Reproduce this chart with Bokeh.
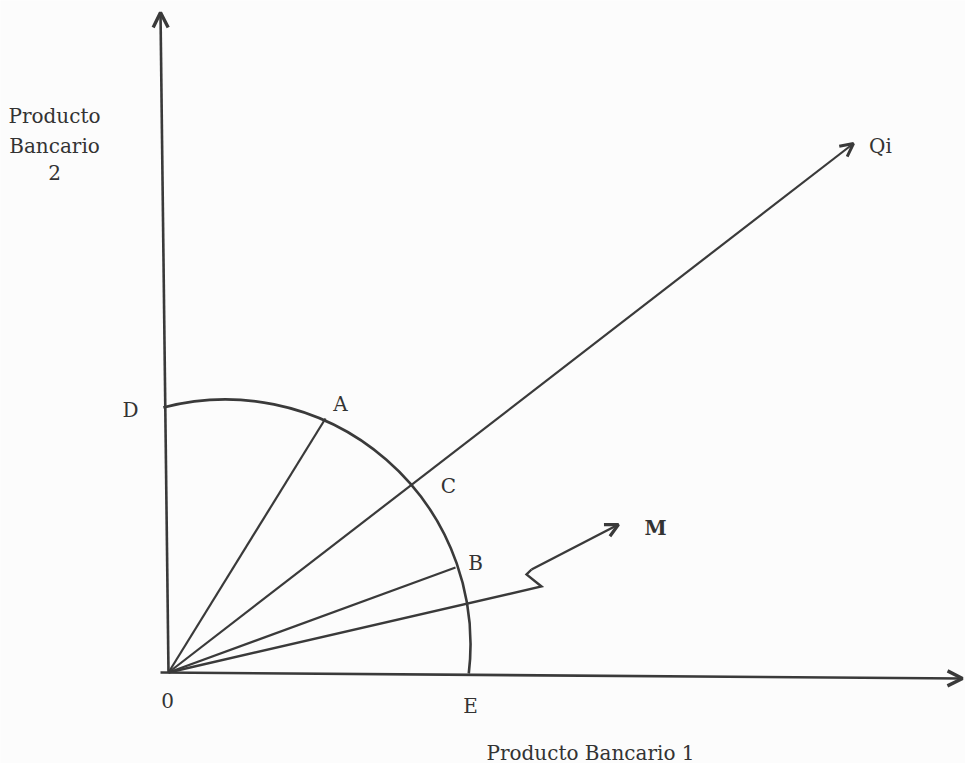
from bokeh.plotting import figure
from bokeh.models import Arrow, OpenHead, ColumnDataSource, Range1d
from bokeh.embed import file_html
from bokeh.resources import INLINE
from bokeh.core.properties import value
import math

# ---- diagram data (origin "0" at (0, 0)) ----
axis1_start = (-8, 0)
axis1_end = (794, -6)      # Producto Bancario 1 axis tip
axis2_start = (0, 0)
axis2_end = (-8, 660)      # Producto Bancario 2 axis tip
arc_center_x = [57]
arc_center_y = [28]
arc_radius = [245]
arc_start_deg = -6.8
arc_end_deg = 104.7
ray_x = [157, 287]         # O -> A, O -> B
ray_y = [254, 105]
qi_tip = (685, 529)        # O -> C -> Qi
m_path_x = [0, 373, 358, 363]
m_path_y = [0, 86, 98, 103]
m_tip = (450, 148)
label_text = ["A", "B", "C", "D", "E", "0", "Qi"]
label_x = [172, 307, 280, -38, 302, -1, 712]
label_y = [269, 110, 187, 263, -33, -28, 527]
m_label = ("M", 487, 145)
ytitle_lines = ["Producto", "Bancario", "2"]
ytitle_x = [-114, -114, -114]
ytitle_y = [557, 527, 500]
xtitle = ("Producto Bancario 1", 422, -80)

INK = "#3a3a3a"
TXT = "#333333"
FONT = value("DejaVu Serif")
BG = "#fcfcfc"

p = figure(width=965, height=763, x_range=Range1d(-168, 797), y_range=Range1d(-91, 672),
           output_backend="svg", toolbar_location=None, min_border=0,
           x_axis_location=None, y_axis_location=None)
p.grid.visible = False
p.outline_line_color = None
p.background_fill_color = BG
p.border_fill_color = BG

def arrow(x0, y0, x1, y1, lw=2.4, size=14):
    p.add_layout(Arrow(end=OpenHead(size=size, line_width=lw + 0.8, line_color=INK),
                       x_start=x0, y_start=y0, x_end=x1, y_end=y1,
                       line_width=lw, line_color=INK))

# axes
arrow(axis1_start[0], axis1_start[1], axis1_end[0], axis1_end[1], lw=2.6, size=15)
arrow(axis2_start[0], axis2_start[1], axis2_end[0], axis2_end[1], lw=2.6, size=15)

# quarter circle
p.arc(x=arc_center_x, y=arc_center_y, radius=arc_radius,
      start_angle=math.radians(arc_start_deg), end_angle=math.radians(arc_end_deg),
      line_color=INK, line_width=2.6)

# rays to A and B
p.segment(x0=[0] * len(ray_x), y0=[0] * len(ray_y), x1=ray_x, y1=ray_y,
          line_color=INK, line_width=2.2)

# ray through C to Qi
arrow(0, 0, qi_tip[0], qi_tip[1], lw=2.2, size=13)

# zig-zag path to M
p.line(x=m_path_x, y=m_path_y, line_color=INK, line_width=2.4, line_join="miter")
arrow(m_path_x[-1], m_path_y[-1], m_tip[0], m_tip[1], lw=2.4, size=13)

# labels
src = ColumnDataSource(dict(x=label_x, y=label_y, t=label_text))
p.text(x="x", y="y", text="t", source=src, text_font=FONT, text_font_size="20px",
       text_color=TXT, text_align="center", text_baseline="middle")
p.text(x=[m_label[1]], y=[m_label[2]], text=[m_label[0]], text_font=FONT,
       text_font_size="20px", text_font_style="bold", text_color=TXT,
       text_align="center", text_baseline="middle")
p.text(x=ytitle_x, y=ytitle_y, text=ytitle_lines, text_font=FONT, text_font_size="20px",
       text_color=TXT, text_align="center", text_baseline="middle")
p.text(x=[xtitle[1]], y=[xtitle[2]], text=[xtitle[0]], text_font=FONT, text_font_size="20px",
       text_color=TXT, text_align="center", text_baseline="middle")

open("out.html", "w").write(file_html(p, INLINE))
